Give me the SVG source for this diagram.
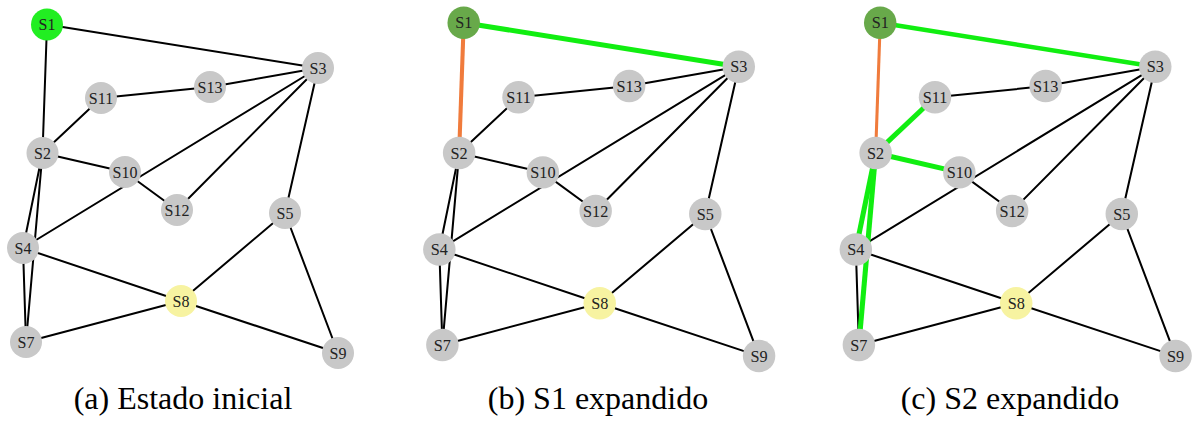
<svg xmlns="http://www.w3.org/2000/svg" width="1197" height="423" viewBox="0 0 1197 423">
<style>
.e{stroke:#000;stroke-width:2;fill:none;stroke-linecap:round}
.g{stroke:#11ee11;stroke-width:5;fill:none;stroke-linecap:butt}
.o{stroke:#f07b3c;stroke-width:4;fill:none}
.n{fill:#c8c8c8}
.ns circle{fill:#c8c8c8}
.y{fill:#f7f3a1}
.s1a{fill:#22ee22}
.s1b{fill:#68a94a}
.t{font-family:"Liberation Serif","Times New Roman",serif;font-size:16px;text-anchor:middle;fill:#222}
.cap{font-family:"Liberation Serif","Times New Roman",serif;font-size:32px;text-anchor:middle;fill:#000}
</style>
<rect width="1197" height="423" fill="#fff"/>

<!-- Panel (a) -->
<g id="panel-a">
<g id="a-connectors">
<line class="e" x1="47" y1="24.5" x2="318" y2="68"/>
<line class="e" x1="47" y1="24.5" x2="42.5" y2="153"/>
<line class="e" x1="42.5" y1="153" x2="101" y2="98"/>
<line class="e" x1="101" y1="98" x2="210" y2="87"/>
<line class="e" x1="210" y1="87" x2="318" y2="68"/>
<line class="e" x1="318" y1="68" x2="23" y2="248"/>
<line class="e" x1="318" y1="68" x2="177" y2="210"/>
<line class="e" x1="318" y1="68" x2="285" y2="213"/>
<line class="e" x1="42.5" y1="153" x2="125" y2="172"/>
<line class="e" x1="125" y1="172" x2="177" y2="210"/>
<line class="e" x1="42.5" y1="153" x2="23" y2="248"/>
<line class="e" x1="42.5" y1="153" x2="26" y2="342"/>
<line class="e" x1="23" y1="248" x2="26" y2="342"/>
<line class="e" x1="23" y1="248" x2="181" y2="301"/>
<line class="e" x1="26" y1="342" x2="181" y2="301"/>
<line class="e" x1="181" y1="301" x2="285" y2="213"/>
<line class="e" x1="181" y1="301" x2="338" y2="353"/>
<line class="e" x1="285" y1="213" x2="338" y2="353"/>
</g>
<g id="a-S1"><circle class="s1a" cx="47" cy="24.5" r="16"/><text class="t" x="47" y="30">S1</text></g>
<g id="a-S2"><circle class="n" cx="42.5" cy="153" r="16"/><text class="t" x="42.5" y="158.5">S2</text></g>
<g id="a-S3"><circle class="n" cx="318" cy="68" r="16"/><text class="t" x="318" y="73.5">S3</text></g>
<g id="a-S4"><circle class="n" cx="23" cy="248" r="16"/><text class="t" x="23" y="253.5">S4</text></g>
<g id="a-S5"><circle class="n" cx="285" cy="213" r="16"/><text class="t" x="285" y="218.5">S5</text></g>
<g id="a-S7"><circle class="n" cx="26" cy="342" r="16"/><text class="t" x="26" y="347.5">S7</text></g>
<g id="a-S8"><circle class="y" cx="181" cy="301" r="16"/><text class="t" x="181" y="306.5">S8</text></g>
<g id="a-S9"><circle class="n" cx="338" cy="353" r="16"/><text class="t" x="338" y="358.5">S9</text></g>
<g id="a-S10"><circle class="n" cx="125" cy="172" r="16"/><text class="t" x="125" y="177.5">S10</text></g>
<g id="a-S11"><circle class="n" cx="101" cy="98" r="16"/><text class="t" x="101" y="103.5">S11</text></g>
<g id="a-S12"><circle class="n" cx="177" cy="210" r="16"/><text class="t" x="177" y="215.5">S12</text></g>
<g id="a-S13"><circle class="n" cx="210" cy="87" r="16"/><text class="t" x="210" y="92.5">S13</text></g>
</g>

<!-- Panel (b) -->
<g id="panel-b" transform="translate(416,-2.2) scale(1.015)">
<g id="b-connectors">
<line class="g" x1="47" y1="24.5" x2="318" y2="68"/>
<line class="o" x1="47" y1="24.5" x2="42.5" y2="153"/>
<line class="e" x1="42.5" y1="153" x2="101" y2="98"/>
<line class="e" x1="101" y1="98" x2="210" y2="87"/>
<line class="e" x1="210" y1="87" x2="318" y2="68"/>
<line class="e" x1="318" y1="68" x2="23" y2="248"/>
<line class="e" x1="318" y1="68" x2="177" y2="210"/>
<line class="e" x1="318" y1="68" x2="285" y2="213"/>
<line class="e" x1="42.5" y1="153" x2="125" y2="172"/>
<line class="e" x1="125" y1="172" x2="177" y2="210"/>
<line class="e" x1="42.5" y1="153" x2="23" y2="248"/>
<line class="e" x1="42.5" y1="153" x2="26" y2="342"/>
<line class="e" x1="23" y1="248" x2="26" y2="342"/>
<line class="e" x1="23" y1="248" x2="181" y2="301"/>
<line class="e" x1="26" y1="342" x2="181" y2="301"/>
<line class="e" x1="181" y1="301" x2="285" y2="213"/>
<line class="e" x1="181" y1="301" x2="338" y2="353"/>
<line class="e" x1="285" y1="213" x2="338" y2="353"/>
</g>
<g id="b-S1"><circle class="s1b" cx="47" cy="24.5" r="16"/><text class="t" x="47" y="30">S1</text></g>
<g id="b-S2"><circle class="n" cx="42.5" cy="153" r="16"/><text class="t" x="42.5" y="158.5">S2</text></g>
<g id="b-S3"><circle class="n" cx="318" cy="68" r="16"/><text class="t" x="318" y="73.5">S3</text></g>
<g id="b-S4"><circle class="n" cx="23" cy="248" r="16"/><text class="t" x="23" y="253.5">S4</text></g>
<g id="b-S5"><circle class="n" cx="285" cy="213" r="16"/><text class="t" x="285" y="218.5">S5</text></g>
<g id="b-S7"><circle class="n" cx="26" cy="342" r="16"/><text class="t" x="26" y="347.5">S7</text></g>
<g id="b-S8"><circle class="y" cx="181" cy="301" r="16"/><text class="t" x="181" y="306.5">S8</text></g>
<g id="b-S9"><circle class="n" cx="338" cy="353" r="16"/><text class="t" x="338" y="358.5">S9</text></g>
<g id="b-S10"><circle class="n" cx="125" cy="172" r="16"/><text class="t" x="125" y="177.5">S10</text></g>
<g id="b-S11"><circle class="n" cx="101" cy="98" r="16"/><text class="t" x="101" y="103.5">S11</text></g>
<g id="b-S12"><circle class="n" cx="177" cy="210" r="16"/><text class="t" x="177" y="215.5">S12</text></g>
<g id="b-S13"><circle class="n" cx="210" cy="87" r="16"/><text class="t" x="210" y="92.5">S13</text></g>
</g>

<!-- Panel (c) -->
<g id="panel-c" transform="translate(832.5,-2.2) scale(1.015)">
<g id="c-connectors">
<line class="g" x1="47" y1="24.5" x2="318" y2="68" style="stroke-width:4.5"/>
<line class="o" x1="47" y1="24.5" x2="42.5" y2="153" style="stroke-width:3"/>
<line class="g" x1="42.5" y1="153" x2="101" y2="98"/>
<line class="e" x1="101" y1="98" x2="210" y2="87"/>
<line class="e" x1="210" y1="87" x2="318" y2="68"/>
<line class="e" x1="318" y1="68" x2="23" y2="248"/>
<line class="e" x1="318" y1="68" x2="177" y2="210"/>
<line class="e" x1="318" y1="68" x2="285" y2="213"/>
<line class="g" x1="42.5" y1="153" x2="125" y2="172"/>
<line class="e" x1="125" y1="172" x2="177" y2="210"/>
<line class="e" x1="23" y1="248" x2="26" y2="342"/>
<line class="g" x1="42.5" y1="153" x2="23" y2="248"/>
<line class="g" x1="42.5" y1="153" x2="26" y2="342"/>
<line class="e" x1="23" y1="248" x2="181" y2="301"/>
<line class="e" x1="26" y1="342" x2="181" y2="301"/>
<line class="e" x1="181" y1="301" x2="285" y2="213"/>
<line class="e" x1="181" y1="301" x2="338" y2="353"/>
<line class="e" x1="285" y1="213" x2="338" y2="353"/>
</g>
<g id="c-S1"><circle class="s1b" cx="47" cy="24.5" r="16"/><text class="t" x="47" y="30">S1</text></g>
<g id="c-S2"><circle class="n" cx="42.5" cy="153" r="16"/><text class="t" x="42.5" y="158.5">S2</text></g>
<g id="c-S3"><circle class="n" cx="318" cy="68" r="16"/><text class="t" x="318" y="73.5">S3</text></g>
<g id="c-S4"><circle class="n" cx="23" cy="248" r="16"/><text class="t" x="23" y="253.5">S4</text></g>
<g id="c-S5"><circle class="n" cx="285" cy="213" r="16"/><text class="t" x="285" y="218.5">S5</text></g>
<g id="c-S7"><circle class="n" cx="26" cy="342" r="16"/><text class="t" x="26" y="347.5">S7</text></g>
<g id="c-S8"><circle class="y" cx="181" cy="301" r="16"/><text class="t" x="181" y="306.5">S8</text></g>
<g id="c-S9"><circle class="n" cx="338" cy="353" r="16"/><text class="t" x="338" y="358.5">S9</text></g>
<g id="c-S10"><circle class="n" cx="125" cy="172" r="16"/><text class="t" x="125" y="177.5">S10</text></g>
<g id="c-S11"><circle class="n" cx="101" cy="98" r="16"/><text class="t" x="101" y="103.5">S11</text></g>
<g id="c-S12"><circle class="n" cx="177" cy="210" r="16"/><text class="t" x="177" y="215.5">S12</text></g>
<g id="c-S13"><circle class="n" cx="210" cy="87" r="16"/><text class="t" x="210" y="92.5">S13</text></g>
</g>

<g id="captions">
<text class="cap" x="183" y="409">(a) Estado inicial</text>
<text class="cap" x="598" y="409">(b) S1 expandido</text>
<text class="cap" x="1010" y="409">(c) S2 expandido</text>
</g>
</svg>
